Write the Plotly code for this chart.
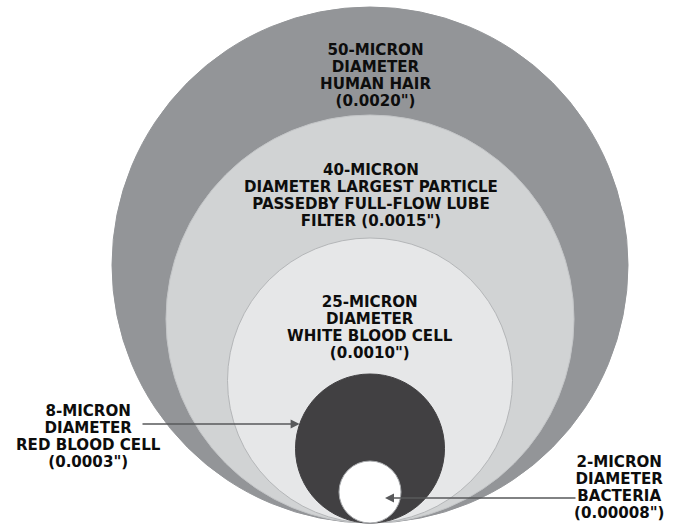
import plotly.graph_objects as go

# ---- data ----
particles = ["50-micron human hair", "40-micron largest particle", "25-micron white blood cell",
             "8-micron red blood cell", "2-micron bacteria"]
drawn_diameters = [516, 408, 285, 149, 62]          # display diameters (chart units)
fill_colors = ["#939598", "#d1d3d4", "#e6e7e8", "#414042", "#ffffff"]
line_colors = ["#939598", "#c4c6c8", "#b4b6b8", "#414042", "#a7a9ac"]

label_lines = [
    ["50-MICRON", "DIAMETER", "HUMAN HAIR", "(0.0020\")"],
    ["40-MICRON", "DIAMETER LARGEST PARTICLE", "PASSEDBY FULL-FLOW LUBE", "FILTER (0.0015\")"],
    ["25-MICRON", "DIAMETER", "WHITE BLOOD CELL", "(0.0010\")"],
    ["8-MICRON", "DIAMETER", "RED BLOOD CELL", "(0.0003\")"],
    ["2-MICRON", "DIAMETER", "BACTERIA", "(0.00008\")"],
]

# ---- layout helpers ----
W, H = 676, 525
cx, bottom = 370, 523
label_pos = [(375, 75), (371, 195), (370, 327), (88, 436), (619, 487)]
glyph_px = 15.1
base_px = 13.1   # controls line spacing (1.3 em -> ~17 px)

fig = go.Figure()
fig.add_trace(go.Scatter(x=[0, W], y=[0, H], mode="markers", marker=dict(opacity=0),
                         hoverinfo="skip", showlegend=False))

shapes = []
for d, fc, lc in zip(drawn_diameters, fill_colors, line_colors):
    r = d / 2
    shapes.append(dict(type="circle", xref="x", yref="y",
                       x0=cx - r, x1=cx + r, y0=bottom - d, y1=bottom,
                       fillcolor=fc, line=dict(color=lc, width=1), layer="below"))

annotations = []
font = dict(family="DejaVu Sans, Liberation Sans, sans-serif", size=base_px, color="#0d0d0d", weight="bold")
for (lx, ly), lines in zip(label_pos, label_lines):
    text = "<br>".join(f'<span style="font-size:{glyph_px}px">{t}</span>' for t in lines)
    annotations.append(dict(x=lx, y=ly, xref="x", yref="y", text=text, align="center",
                            showarrow=False, font=font, xanchor="center", yanchor="middle"))

# arrows: red blood cell (pointing right) and bacteria (pointing left)
r8 = drawn_diameters[3] / 2
cy8 = bottom - r8
ay8 = 424
tip8 = cx - (r8 ** 2 - (cy8 - ay8) ** 2) ** 0.5
annotations.append(dict(x=tip8, y=ay8, ax=141, ay=ay8, xref="x", yref="y", axref="x", ayref="y",
                        text="", showarrow=True, arrowhead=2, arrowsize=1.2, arrowwidth=1.5,
                        arrowcolor="#58595b"))
annotations.append(dict(x=385, y=498, ax=577, ay=498, xref="x", yref="y", axref="x", ayref="y",
                        text="", showarrow=True, arrowhead=2, arrowsize=1.2, arrowwidth=1.5,
                        arrowcolor="#58595b"))

fig.update_layout(
    width=W, height=H, margin=dict(l=0, r=0, t=0, b=0),
    paper_bgcolor="white", plot_bgcolor="white",
    xaxis=dict(range=[0, W], visible=False, fixedrange=True),
    yaxis=dict(range=[H, 0], visible=False, fixedrange=True),
    shapes=shapes, annotations=annotations, showlegend=False,
)
fig.write_html("out.html", config={"displayModeBar": False},
               post_script="document.body.style.margin='0';document.body.style.overflow='hidden';")
